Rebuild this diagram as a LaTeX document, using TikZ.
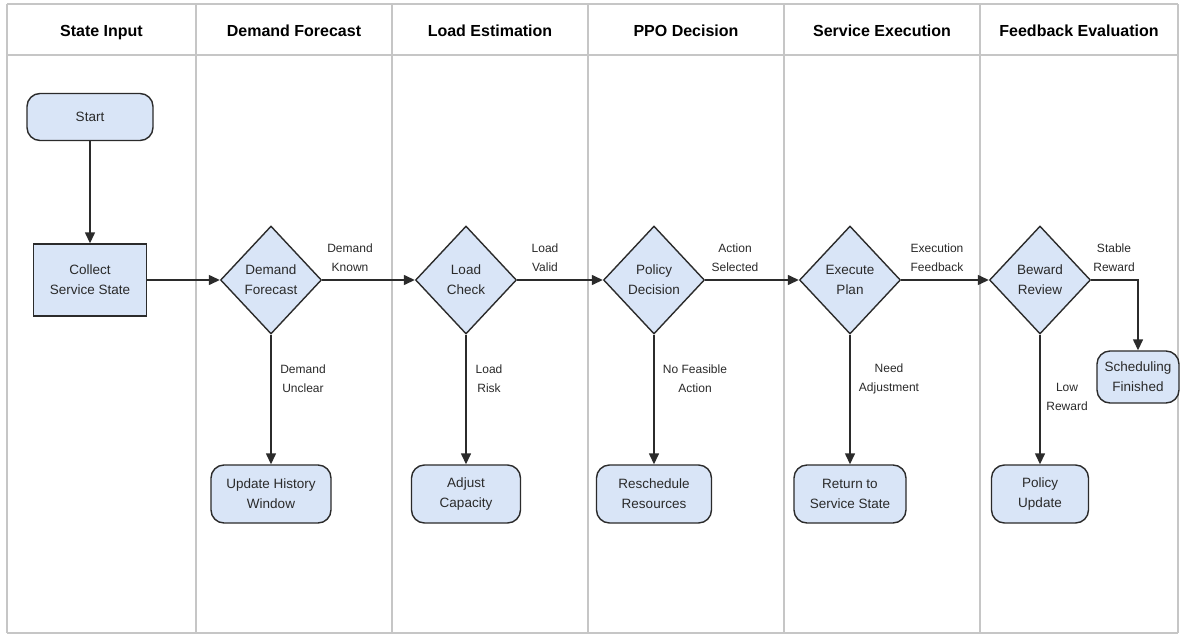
\documentclass[tikz,border=0pt]{standalone}
\usepackage{fontspec}
\setmainfont{Liberation Sans}
\usetikzlibrary{shapes.geometric,arrows.meta}
\definecolor{laneg}{HTML}{C6C6C6}
\definecolor{edgec}{HTML}{2B2B2B}
\definecolor{boxc}{HTML}{D9E5F7}
\definecolor{txt}{HTML}{2A2A2A}
\begin{document}
\begin{tikzpicture}[x=1pt,y=-1pt,
 lane/.style={draw=laneg, line width=1.3pt},
 hdr/.style={font=\fontsize{16}{19}\selectfont\bfseries, text=black, anchor=base},
 proc/.style={draw=edgec, line width=1.4pt, fill=boxc, font=\fontsize{13.5}{20}\selectfont, align=center, text=txt, inner sep=0pt},
 term/.style={proc, rounded corners=13pt},
 dec/.style={proc, diamond, minimum width=101pt, minimum height=108pt},
 lbl/.style={font=\fontsize{12}{19}\selectfont, align=center, text=txt},
 arr/.style={draw=edgec, line width=1.4pt, -{Triangle[length=11pt,width=10pt]}}
]
\useasboundingbox[fill=white] (0,0) rectangle (1184,635);
% lanes
\foreach \x in {7,196,392,588,784,980,1178} \draw[lane] (\x,4) -- (\x,633);
\draw[lane] (7,4) -- (1178,4);
\draw[lane] (7,55) -- (1178,55);
\draw[lane] (7,633) -- (1178,633);
% headers
\node[hdr] (h1) at (101.5,36) {State Input};
\node[hdr] (h2) at (294,36) {Demand Forecast};
\node[hdr] (h3) at (490,36) {Load Estimation};
\node[hdr] (h4) at (686,36) {PPO Decision};
\node[hdr] (h5) at (882,36) {Service Execution};
\node[hdr] (h6) at (1079,36) {Feedback Evaluation};
% nodes
\node[term, minimum width=126pt, minimum height=47pt] (start) at (90,117) {Start};
\node[proc, minimum width=113pt, minimum height=72pt] (collect) at (90,280) {Collect\\Service State};
\node[dec] (df) at (271,280) {Demand\\Forecast};
\node[dec] (lc) at (466,280) {Load\\Check};
\node[dec] (pd) at (654,280) {Policy\\Decision};
\node[dec] (ep) at (850,280) {Execute\\Plan};
\node[dec] (rr) at (1040,280) {Beward\\Review};
\node[term, minimum width=120pt, minimum height=58pt] (uhw) at (271,494) {Update History\\Window};
\node[term, minimum width=109pt, minimum height=58pt] (ac) at (466,494) {Adjust\\Capacity};
\node[term, minimum width=115pt, minimum height=58pt] (rres) at (654,494) {Reschedule\\Resources};
\node[term, minimum width=112pt, minimum height=58pt] (rss) at (850,494) {Return to\\Service State};
\node[term, minimum width=97pt, minimum height=58pt] (pu) at (1040,494) {Policy\\Update};
\node[term, minimum width=82pt, minimum height=52pt] (sf) at (1138,377) {Scheduling\\Finished};
% connectors
\draw[arr] (start) -- (collect);
\draw[arr] (collect) -- (df);
\draw[arr] (df) -- (lc);
\draw[arr] (lc) -- (pd);
\draw[arr] (pd) -- (ep);
\draw[arr] (ep) -- (rr);
\draw[arr] (rr.east) -| (sf.north);
\draw[arr] (df) -- (uhw);
\draw[arr] (lc) -- (ac);
\draw[arr] (pd) -- (rres);
\draw[arr] (ep) -- (rss);
\draw[arr] (rr) -- (pu);
% labels
\node[lbl] (l1) at (350,258) {Demand\\Known};
\node[lbl] (l2) at (545,258) {Load\\Valid};
\node[lbl] (l3) at (735,258) {Action\\Selected};
\node[lbl] (l4) at (937,258) {Execution\\Feedback};
\node[lbl] (l5) at (1114,258) {Stable\\Reward};
\node[lbl] (l6) at (303,379) {Demand\\Unclear};
\node[lbl] (l7) at (489,379) {Load\\Risk};
\node[lbl] (l8) at (695,379) {No Feasible\\Action};
\node[lbl] (l9) at (889,379) {Need\\Adjustment};
\node[lbl] (l10) at (1067,397) {Low\\Reward};
\end{tikzpicture}
\end{document}
